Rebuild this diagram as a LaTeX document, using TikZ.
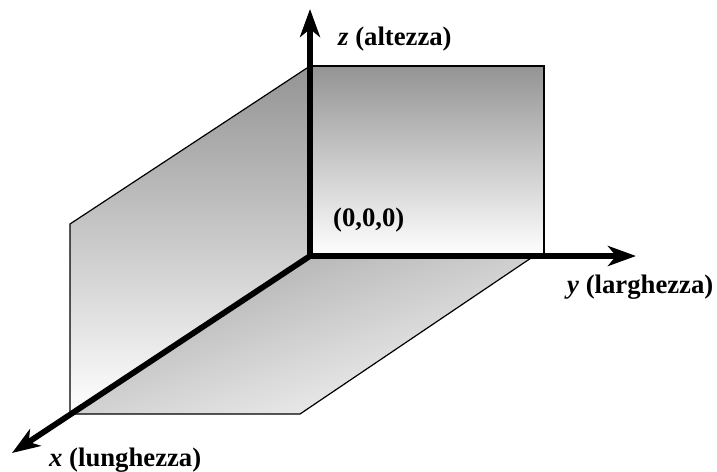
\documentclass[tikz,border=0pt]{standalone}
\usepackage{fontspec}
\setmainfont{Liberation Serif}
\usetikzlibrary{arrows.meta}
\tikzset{
  axisline/.style={line width=5.8pt,-{Stealth[length=28pt,width=20pt,inset=8pt]}},
  planeedge/.style={draw=black,line width=1.2pt,line join=miter},
  lab/.style={font=\fontsize{26.7}{28}\selectfont\bfseries,inner sep=0pt,anchor=base west}
}
\begin{document}
\begin{tikzpicture}[x=1pt,y=-1pt]
\useasboundingbox (0,0) rectangle (717,471);
\coordinate (O) at (310,256);
\coordinate (Xtip) at (12,453);
\coordinate (Ytip) at (636,256);
\coordinate (Ztip) at (310,9);
\coordinate (A) at (310,66);
\coordinate (B) at (544,66);
\coordinate (C) at (544,256);
\coordinate (D) at (70,224);
\coordinate (E) at (70,414);
\coordinate (F) at (300,414);
\coordinate (G) at (534,256);
\shade[top color=black!42,bottom color=white] (A) -- (D) -- (E) -- (O) -- cycle;
\shade[top color=black!42,bottom color=white] (A) -- (B) -- (C) -- (O) -- cycle;
\shade[top color=black!33,bottom color=black!4,shading angle=18] (O) -- (G) -- (F) -- (E) -- cycle;
\draw[planeedge] (O) -- (A) -- (B) -- (C);
\draw[planeedge] (A) -- (D) -- (E);
\draw[planeedge] (E) -- (F) -- (G);
\draw[axisline] (O) -- (Ztip);
\draw[axisline] (O) -- (Ytip);
\draw[axisline] (O) -- (Xtip);
\fill (O) circle (2.9pt);
\node[lab] (zl) at (338,45) {\textit{z} (altezza)};
\node[lab] (ol) at (333,226) {(0,0,0)};
\node[lab] (yl) at (567,293) {\textit{y} (larghezza)};
\node[lab] (xl) at (49,466) {\textit{x} (lunghezza)};
\end{tikzpicture}
\end{document}
